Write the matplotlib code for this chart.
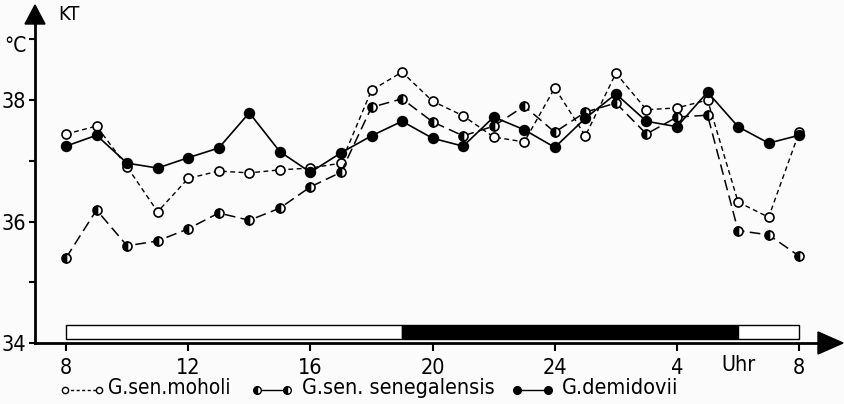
import matplotlib
matplotlib.use("Agg")
import matplotlib.pyplot as plt
from matplotlib import font_manager as fm
from matplotlib.font_manager import FontProperties
from matplotlib.textpath import TextPath
from matplotlib.lines import Line2D
from matplotlib.patches import Rectangle, Polygon

# Hours of the day (8 h to 8 h the next morning, counted on past 24)
hours = list(range(8, 33))

moholi = [37.44, 37.57, 36.90, 36.16, 36.71, 36.83, 36.80, 36.85, 36.88, 36.96,
          38.16, 38.46, 37.98, 37.74, 37.39, 37.31, 38.20, 37.41, 38.44, 37.84,
          37.87, 38.00, 36.32, 36.07, 37.47]
senegalensis = [35.40, 36.19, 35.60, 35.68, 35.88, 36.14, 36.02, 36.22, 36.57, 36.81,
                37.88, 38.02, 37.64, 37.41, 37.57, 37.90, 37.47, 37.80, 37.95, 37.44,
                37.72, 37.75, 35.85, 35.78, 35.43]
demidovii = [37.24, 37.42, 36.96, 36.88, 37.05, 37.21, 37.79, 37.15, 36.81, 37.13,
             37.41, 37.65, 37.37, 37.24, 37.72, 37.51, 37.22, 37.70, 38.10, 37.65,
             37.56, 38.13, 37.56, 37.29, 37.42]

xtick_pos = [8, 12, 16, 20, 24, 28, 32]
xtick_labels = ['8', '12', '16', '20', '24', '4', '8']
ytick_major = [34, 36, 38]
ytick_minor = [35, 37, 39]

# Light/dark regime bar: (start hour, end hour, dark?)
light_regime = [(8, 19, False), (19, 30, True), (30, 32, False)]

series_names = ['G.sen.moholi', 'G.sen. senegalensis', 'G.demidovii']


# --- a narrow sans face if one is installed ---------------------------------
def pick_font():
    wanted = ['LiberationSansNarrow-Regular', 'DejaVuSansCondensed.ttf',
              'RobotoCondensed-Regular', 'OpenSans_Condensed-Regular',
              'OpenSansCondensed']
    files = [f.fname for f in fm.fontManager.ttflist]
    for w in wanted:
        for f in files:
            if w.lower() in f.lower():
                return FontProperties(fname=f)
    for f in fm.fontManager.ttflist:
        if f.stretch in ('condensed', 'semi-condensed') and f.style == 'normal' \
                and f.weight in (400, 'normal', 'regular'):
            return FontProperties(fname=f.fname)
    return FontProperties(family='DejaVu Sans')


FONT = pick_font()


def fit_size(s, width_px, cap_px):
    """Font size (pt) giving roughly the wanted width, capped by the cap height."""
    w1 = TextPath((0, 0), s, size=1, prop=FONT).get_extents().width
    by_width = width_px * 0.72 / w1
    return min(cap_px * 1.0, by_width)


W, H = 844, 404
fig = plt.figure(figsize=(W / 100, H / 100), dpi=100)
bg = '#fbfbfb'
fig.patch.set_facecolor(bg)
ax = fig.add_axes([0, 0, 1, 1])
ax.set_facecolor(bg)

# pixel <-> data mapping of the drawing area
x0_px, xs = 66.0, 30.55      # hour 8 at px 66, px per hour
y0_px, ys = 343.0, 60.75     # 34 degC at px 343, px per degree
ax.set_xlim(8 - x0_px / xs, 8 + (W - x0_px) / xs)
ax.set_ylim(34 - (H - y0_px) / ys, 34 + y0_px / ys)


def px(x, y):
    return 8 + (x - x0_px) / xs, 34 + (y0_px - y) / ys


for s in ['top', 'right']:
    ax.spines[s].set_visible(False)
ax.spines['left'].set_position(('data', 7))
ax.spines['bottom'].set_position(('data', 34))
ax.spines['left'].set_bounds(34, px(0, 20)[1])
ax.spines['bottom'].set_bounds(7, px(822, 0)[0])
for s in ['left', 'bottom']:
    ax.spines[s].set_linewidth(2.0)
    ax.spines[s].set_color('black')

# axis arrowheads
ya = [px(25, 24), px(45, 24), px(35, 5)]
ax.add_patch(Polygon(ya, closed=True, color='black', clip_on=False))
xa = [px(818, 332), px(818, 354), px(843, 343)]
ax.add_patch(Polygon(xa, closed=True, color='black', clip_on=False))

tick_size = 15.5
ax.set_xticks(xtick_pos)
ax.set_xticklabels(xtick_labels, fontproperties=FONT, fontsize=tick_size)
ax.set_yticks(ytick_major)
ax.set_yticklabels([str(v) for v in ytick_major], fontproperties=FONT,
                   fontsize=tick_size)
ax.set_yticks(ytick_minor, minor=True)
ax.tick_params(axis='x', direction='out', length=6, width=1.5, pad=5)
ax.tick_params(axis='y', which='both', direction='out', length=4, width=1.5,
               pad=2.5)

ax.text(30, px(0, 365)[1], 'Uhr', ha='center', va='center',
        fontproperties=FONT, fontsize=tick_size)
ax.text(*px(58, 15), 'KT', ha='left', va='center',
        fontproperties=FONT, fontsize=14.5)
ax.text(*px(4, 46), '°C', ha='left', va='center',
        fontproperties=FONT, fontsize=15)

# light/dark bar
bar_lo, bar_hi = px(0, 339)[1], px(0, 325)[1]
for a, b, dark in light_regime:
    ax.add_patch(Rectangle((a, bar_lo), b - a, bar_hi - bar_lo,
                           facecolor='black' if dark else 'white',
                           edgecolor='black', linewidth=1.0, zorder=2))

# series
ax.plot(hours, moholi, color='black', lw=1.0, linestyle=(0, (3.5, 2.5)),
        marker='o', ms=6.5, mfc='white', mec='black', mew=1.2, zorder=4)
ax.plot(hours, senegalensis, color='black', lw=1.1, linestyle=(0, (7, 3.5)),
        marker='o', ms=6.5, fillstyle='left', mfc='black', mfcalt='white',
        mec='black', mew=1.2, zorder=4)
ax.plot(hours, demidovii, color='black', lw=1.2, linestyle='-',
        marker='o', ms=7, mfc='black', mec='black', mew=1.2, zorder=5)

# legend row
ly = 390
styles = [
    dict(linestyle=(0, (2.2, 1.8)), mfc='white', fillstyle='full', ms=4.5,
         x=(65, 99), tx=108, tw=120),
    dict(linestyle='-', mfc='black', fillstyle='left', ms=5.5,
         x=(257, 287), tx=302, tw=190),
    dict(linestyle='-', mfc='black', fillstyle='full', ms=5.5,
         x=(517, 548), tx=562, tw=113),
]
for name, st in zip(series_names, styles):
    (xa_, y_), (xb_, _) = px(st['x'][0], ly), px(st['x'][1], ly)
    ax.add_line(Line2D([xa_, xb_], [y_, y_], color='black', lw=1.0,
                       linestyle=st['linestyle'], marker='o', ms=st['ms'],
                       mfc=st['mfc'], mfcalt='white', fillstyle=st['fillstyle'],
                       mec='black', mew=1.0, clip_on=False))
    ax.text(px(st['tx'], ly)[0], px(0, ly - 2)[1], name, ha='left',
            va='center', fontproperties=FONT,
            fontsize=fit_size(name, st['tw'], 16))

fig.savefig('out.png', dpi=100, facecolor=bg)
